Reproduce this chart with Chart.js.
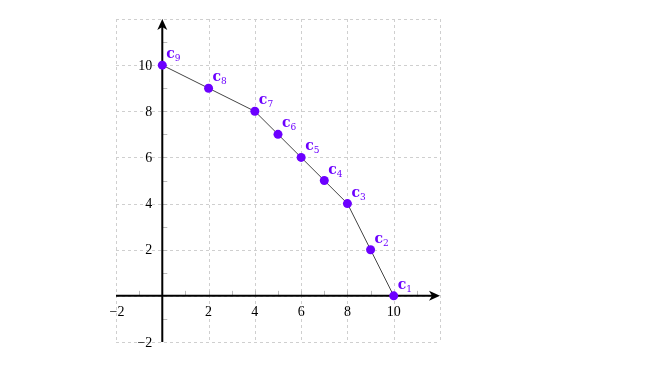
<!DOCTYPE html>
<html>
<head>
<meta charset="utf-8">
<script src="https://cdn.jsdelivr.net/npm/chart.js@4.4.1/dist/chart.umd.min.js"></script>
<style>
  html, body { margin: 0; padding: 0; background: #fff; }
  #chart { display: block; }
</style>
</head>
<body>
<canvas id="chart" width="654" height="366"></canvas>
<script>
// points c1..c9
const pointNames = ['1', '2', '3', '4', '5', '6', '7', '8', '9'];
const xValues = [10, 9, 8, 7, 6, 5, 4, 2, 0];
const yValues = [0, 2, 4, 5, 6, 7, 8, 9, 10];
const xTickLabels = [-2, 2, 4, 6, 8, 10];
const yTickLabels = [-2, 2, 4, 6, 8, 10];

const purple = '#6c00ff';
const tickFont = '14px "Liberation Serif", serif';

// grid, axes with arrows, tick labels (drawn with the chart's own scales)
const axesPlugin = {
  id: 'axes',
  beforeDatasetsDraw(chart) {
    const { ctx, scales: { x, y } } = chart;
    const x0 = x.getPixelForValue(0), y0 = y.getPixelForValue(0);
    const left = x.getPixelForValue(-2), right = x.getPixelForValue(12);
    const top = y.getPixelForValue(12), bottom = y.getPixelForValue(-2);
    ctx.save();
    // dashed grid
    ctx.strokeStyle = '#cfcfcf';
    ctx.lineWidth = 1;
    ctx.setLineDash([3, 3]);
    for (let v = -2; v <= 12; v += 2) {
      const px = Math.round(x.getPixelForValue(v)) + 0.5;
      ctx.beginPath(); ctx.moveTo(px, top); ctx.lineTo(px, bottom); ctx.stroke();
      const py = Math.round(y.getPixelForValue(v)) + 0.5;
      ctx.beginPath(); ctx.moveTo(left, py); ctx.lineTo(right, py); ctx.stroke();
    }
    ctx.setLineDash([]);
    // small ticks (inside of the axes)
    ctx.strokeStyle = '#bbb';
    for (let v = -1; v <= 11; v++) {
      if (v === 0) continue;
      const px = Math.round(x.getPixelForValue(v)) + 0.5;
      ctx.beginPath(); ctx.moveTo(px, y0 - 5); ctx.lineTo(px, y0); ctx.stroke();
      const py = Math.round(y.getPixelForValue(v)) + 0.5;
      ctx.beginPath(); ctx.moveTo(x0, py); ctx.lineTo(x0 + 5, py); ctx.stroke();
    }
    // axes
    ctx.strokeStyle = '#000';
    ctx.fillStyle = '#000';
    ctx.lineWidth = 2;
    ctx.beginPath(); ctx.moveTo(left, y0); ctx.lineTo(right - 6, y0); ctx.stroke();
    ctx.beginPath(); ctx.moveTo(x0, bottom); ctx.lineTo(x0, top + 6); ctx.stroke();
    // arrow heads
    ctx.beginPath();
    ctx.moveTo(right, y0); ctx.lineTo(right - 11, y0 - 5); ctx.lineTo(right - 8, y0); ctx.lineTo(right - 11, y0 + 5);
    ctx.closePath(); ctx.fill();
    ctx.beginPath();
    ctx.moveTo(x0, top); ctx.lineTo(x0 - 5, top + 11); ctx.lineTo(x0, top + 8); ctx.lineTo(x0 + 5, top + 11);
    ctx.closePath(); ctx.fill();
    // tick labels
    ctx.font = tickFont;
    ctx.textAlign = 'center';
    ctx.textBaseline = 'top';
    xTickLabels.forEach(v => {
      const t = v < 0 ? '\u2212' + (-v) : String(v);
      ctx.fillText(t, x.getPixelForValue(v) + (v < 0 ? 1 : 0), y0 + 9);
    });
    ctx.textAlign = 'right';
    ctx.textBaseline = 'middle';
    yTickLabels.forEach(v => {
      const t = v < 0 ? '\u2212' + (-v) : String(v);
      ctx.fillText(t, x0 - 10, y.getPixelForValue(v) + 1);
    });
    ctx.restore();
  },
  afterDatasetsDraw(chart) {
    const { ctx } = chart;
    const meta = chart.getDatasetMeta(0);
    ctx.save();
    ctx.fillStyle = purple;
    ctx.textBaseline = 'alphabetic';
    ctx.textAlign = 'left';
    meta.data.forEach((pt, i) => {
      const bx = pt.x + 4, by = pt.y - 7;
      ctx.font = 'bold 14px "DejaVu Serif", serif';
      ctx.fillText('c', bx, by);
      const w = ctx.measureText('c').width;
      ctx.font = '9px "DejaVu Serif", serif';
      ctx.fillText(pointNames[i], bx + w, by + 3);
    });
    ctx.restore();
  }
};

new Chart(document.getElementById('chart'), {
  type: 'scatter',
  data: {
    datasets: [{
      data: xValues.map((v, i) => ({ x: v, y: yValues[i] })),
      showLine: true,
      borderColor: '#444',
      borderWidth: 1,
      pointRadius: 4.5,
      pointBackgroundColor: purple,
      pointBorderColor: purple,
      pointBorderWidth: 0
    }]
  },
  options: {
    responsive: false,
    animation: false,
    layout: { padding: { left: 116, right: 214, top: 19, bottom: 24 } },
    plugins: { legend: { display: false }, tooltip: { enabled: false } },
    scales: {
      x: { type: 'linear', min: -2, max: 12, display: false },
      y: { type: 'linear', min: -2, max: 12, display: false }
    }
  },
  plugins: [axesPlugin]
});
</script>
</body>
</html>
